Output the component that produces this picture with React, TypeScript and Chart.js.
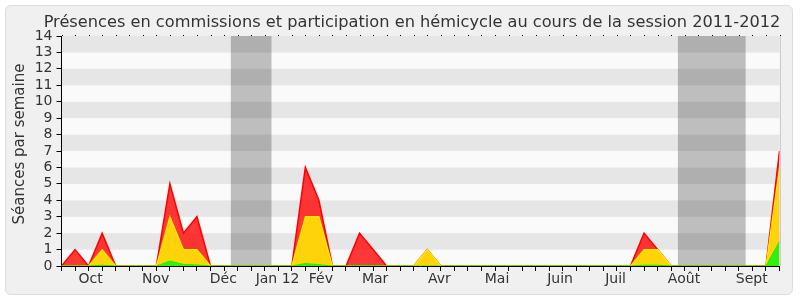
import React, { useEffect, useRef } from "react";
import { Chart, registerables } from "chart.js";

Chart.register(...registerables);

// Week index (0..53) of the session
const weeks: number[] = Array.from({ length: 54 }, (_, i) => i);

// Séances par semaine (red = total incl. commissions, yellow = hémicycle, green = interventions)
const totalSeances = [
  0, 1, 0, 2, 0, 0, 0, 0, 5, 2,
  3, 0, 0, 0, 0, 0, 0, 0, 6, 4,
  0, 0, 2, 1, 0, 0, 0, 1, 0, 0,
  0, 0, 0, 0, 0, 0, 0, 0, 0, 0,
  0, 0, 0, 2, 1, 0, 0, 0, 0, 0,
  0, 0, 0, 7,
];
const hemicycle = [
  0, 0, 0, 1, 0, 0, 0, 0, 3, 1,
  1, 0, 0, 0, 0, 0, 0, 0, 3, 3,
  0, 0, 0, 0, 0, 0, 0, 1, 0, 0,
  0, 0, 0, 0, 0, 0, 0, 0, 0, 0,
  0, 0, 0, 1, 1, 0, 0, 0, 0, 0,
  0, 0, 0, 6,
];
const interventions = [
  0, 0, 0, 0.05, 0, 0, 0, 0, 0.3, 0.1,
  0.06, 0, 0, 0, 0, 0, 0, 0, 0.15, 0.08,
  0, 0, 0.03, 0.03, 0, 0, 0, 0, 0, 0,
  0, 0, 0, 0, 0, 0, 0, 0, 0, 0,
  0, 0, 0, 0.05, 0.05, 0, 0, 0, 0, 0,
  0, 0, 0, 1.5,
];

const monthLabels = ["Oct", "Nov", "Déc", "Jan 12", "Fév", "Mar", "Avr", "Mai", "Juin", "Juil", "Août", "Sept"];
const monthPositions = [2.15, 6.95, 11.95, 15.95, 19.15, 23.15, 27.9, 32.15, 36.8, 40.9, 45.95, 50.95];

const vacationStarts = [12.5, 45.5];
const vacationEnds = [15.5, 50.5];

const yTicks: number[] = Array.from({ length: 15 }, (_, i) => i);

const TITLE = "Présences en commissions et participation en hémicycle au cours de la session 2011-2012";
const Y_TITLE = "Séances par semaine";
const FONT = "'DejaVu Sans', Verdana, sans-serif";
const TEXT_COLOR = "#333333";

const backgroundPlugin = {
  id: "bgPlugin",
  beforeDraw(chart: any) {
    const { ctx, chartArea, scales } = chart;
    const x = scales.x;
    const y = scales.y;
    ctx.save();
    ctx.fillStyle = "#ffffff";
    ctx.fillRect(0, 0, chart.width, chart.height);
    // frame
    const fx = 5.5, fy = 5.5, fw = 787, fh = 289, r = 6;
    ctx.beginPath();
    ctx.moveTo(fx + r, fy);
    ctx.lineTo(fx + fw - r, fy);
    ctx.quadraticCurveTo(fx + fw, fy, fx + fw, fy + r);
    ctx.lineTo(fx + fw, fy + fh - r);
    ctx.quadraticCurveTo(fx + fw, fy + fh, fx + fw - r, fy + fh);
    ctx.lineTo(fx + r, fy + fh);
    ctx.quadraticCurveTo(fx, fy + fh, fx, fy + fh - r);
    ctx.lineTo(fx, fy + r);
    ctx.quadraticCurveTo(fx, fy, fx + r, fy);
    ctx.closePath();
    ctx.fillStyle = "#f0f0f0";
    ctx.fill();
    ctx.strokeStyle = "#dcdcdc";
    ctx.lineWidth = 1;
    ctx.stroke();

    // bands
    for (let k = 0; k < 14; k++) {
      const top = y.getPixelForValue(k + 1);
      const bot = y.getPixelForValue(k);
      ctx.fillStyle = k % 2 === 0 ? "#fafafa" : "#e6e6e6";
      ctx.fillRect(chartArea.left, top, chartArea.right - chartArea.left, bot - top);
    }
    // vacations
    ctx.fillStyle = "rgba(0,0,0,0.24)";
    for (let v = 0; v < vacationStarts.length; v++) {
      const a = x.getPixelForValue(vacationStarts[v]);
      const b = x.getPixelForValue(vacationEnds[v]);
      ctx.fillRect(a, chartArea.top, b - a, chartArea.bottom - chartArea.top);
    }
    // right border
    ctx.strokeStyle = "#cccccc";
    ctx.beginPath();
    ctx.moveTo(Math.round(chartArea.right) + 0.5, chartArea.top);
    ctx.lineTo(Math.round(chartArea.right) + 0.5, chartArea.bottom);
    ctx.stroke();
    // top dots
    ctx.fillStyle = "#000000";
    for (const w of weeks) {
      const px = Math.round(x.getPixelForValue(w));
      ctx.fillRect(px, Math.round(chartArea.top) - 1, 1, 1);
    }
    // title
    ctx.fillStyle = TEXT_COLOR;
    ctx.font = `16.2px ${FONT}`;
    ctx.textAlign = "center";
    ctx.textBaseline = "alphabetic";
    ctx.fillText(TITLE, 412, 27);
    // y title
    ctx.translate(20, 144);
    ctx.rotate(-Math.PI / 2);
    ctx.font = `15px ${FONT}`;
    ctx.textBaseline = "middle";
    ctx.fillText(Y_TITLE, 0, 0);
    ctx.restore();
  },
};

export default function App() {
  const ref = useRef<HTMLCanvasElement | null>(null);
  useEffect(() => {
    if (!ref.current) return;
    const chart = new Chart(ref.current, {
      type: "line",
      data: {
        labels: weeks,
        datasets: [
          {
            label: "Interventions",
            data: weeks.map((w, i) => ({ x: w, y: interventions[i] })),
            borderColor: "#22ee00",
            backgroundColor: "#33ee11",
            borderWidth: 1,
            fill: "origin",
            pointRadius: 0,
            tension: 0,
          },
          {
            label: "Hémicycle",
            data: weeks.map((w, i) => ({ x: w, y: hemicycle[i] })),
            borderColor: "#ffee00",
            backgroundColor: "#ffd309",
            borderWidth: 1.2,
            fill: "origin",
            pointRadius: 0,
            tension: 0,
          },
          {
            label: "Total",
            data: weeks.map((w, i) => ({ x: w, y: totalSeances[i] })),
            borderColor: "#ff0000",
            backgroundColor: "rgba(255,0,0,0.78)",
            borderWidth: 1.5,
            fill: "origin",
            pointRadius: 0,
            tension: 0,
          },
        ],
      },
      options: {
        animation: false,
        responsive: false,
        maintainAspectRatio: false,
        layout: { padding: { left: 0, top: 36, right: 20.5, bottom: 0 } },
        plugins: { legend: { display: false }, title: { display: false }, tooltip: { enabled: false } },
        scales: {
          x: {
            type: "linear",
            min: 0,
            max: 53,
            position: "bottom",
            afterBuildTicks: (s: any) => { s.ticks = weeks.map((w) => ({ value: w })); },
            afterFit: (s: any) => { s.height = 0; },
            ticks: { display: false, autoSkip: false },
            grid: { drawOnChartArea: false, drawTicks: true, tickLength: 5, color: "#000000" },
            border: { display: true, color: "#000000", width: 1 },
          },
          x2: {
            type: "linear",
            min: 0,
            max: 53,
            position: "bottom",
            afterBuildTicks: (s: any) => { s.ticks = monthPositions.map((p) => ({ value: p })); },
            afterFit: (s: any) => { s.height = 34; },
            ticks: {
              autoSkip: false,
              maxRotation: 0,
              minRotation: 0,
              padding: 5,
              color: TEXT_COLOR,
              font: { family: FONT, size: 14 },
              callback: (_v: any, i: number) => monthLabels[i],
            },
            grid: { display: false, drawTicks: false },
            border: { display: false },
          },
          y: {
            type: "linear",
            min: 0,
            max: 14,
            afterBuildTicks: (s: any) => { s.ticks = yTicks.map((t) => ({ value: t })); },
            afterFit: (s: any) => { s.width = 61.5; },
            ticks: {
              autoSkip: false,
              padding: 4,
              color: TEXT_COLOR,
              font: { family: FONT, size: 14 },
            },
            grid: { drawOnChartArea: false, drawTicks: true, tickLength: 5, color: "#000000" },
            border: { display: true, color: "#000000", width: 1 },
          },
        },
      },
      plugins: [backgroundPlugin],
    } as any);
    return () => chart.destroy();
  }, []);
  return (
    <div style={{ position: "fixed", left: 0, top: 0, width: 800, height: 300 }}>
      <canvas ref={ref} width={800} height={300} style={{ width: 800, height: 300, display: "block" }} />
    </div>
  );
}
